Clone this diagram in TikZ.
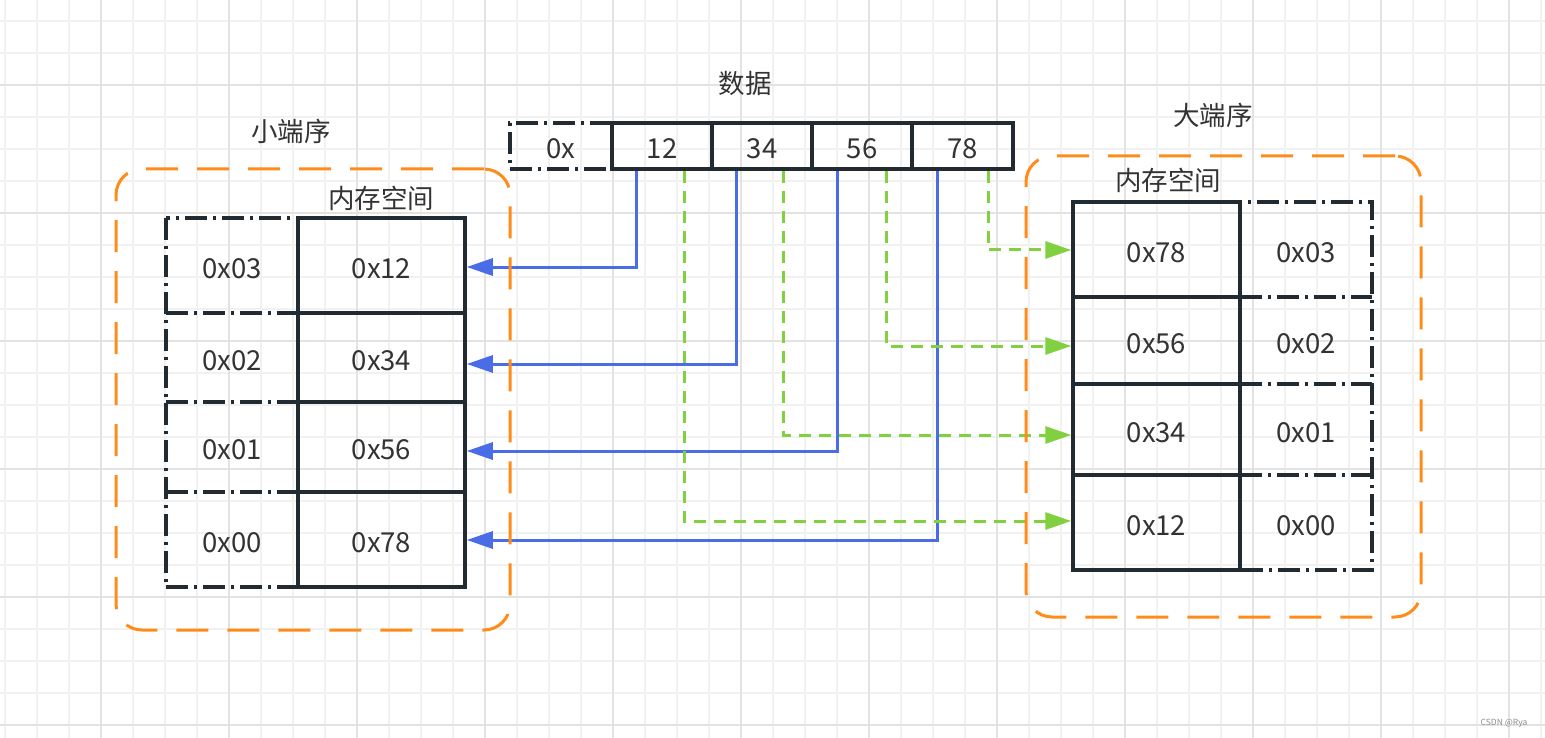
\documentclass[tikz,border=0pt]{standalone}
\usepackage{fontspec}
\setmainfont{Noto Sans CJK SC}
\usetikzlibrary{arrows.meta,calc}
\definecolor{gridminor}{HTML}{F1F1F1}
\definecolor{gridmajor}{HTML}{E3E3E3}
\definecolor{boxline}{HTML}{222A32}
\definecolor{txt}{HTML}{333333}
\definecolor{bluel}{HTML}{4A6CE6}
\definecolor{greenl}{HTML}{80D040}
\definecolor{orangel}{HTML}{FF8C1A}
\tikzset{
  cellfont/.style={font=\fontsize{27.5pt}{31pt}\selectfont, text height=25pt, text depth=0pt},
  cellsolid/.style={draw=boxline, line width=3.5pt, inner sep=0pt, text=txt, cellfont},
  cellplain/.style={inner sep=0pt, text=txt, cellfont},
  ddline/.style={draw=boxline, line width=3.5pt,
    dash pattern=on 22pt off 6pt on 3pt off 6pt},
  celldd/.style={ddline, inner sep=0pt, text=txt, cellfont},
  lbl/.style={text=txt, inner sep=0pt, font=\fontsize{26.5pt}{30pt}\selectfont},
  blueconn/.style={draw=bluel, line width=3pt,
    -{Triangle[length=26pt,width=17pt]}},
  greenconn/.style={draw=greenl, line width=3pt, dash pattern=on 12pt off 8pt,
    -{Triangle[length=26pt,width=17pt]}},
  region/.style={draw=orangel, line width=3pt, rounded corners=26pt,
    dash pattern=on 32pt off 19pt, inner sep=0pt},
}
\begin{document}
\begin{tikzpicture}[x=1pt,y=-1pt]
\useasboundingbox (0,0) rectangle (1545,738);
\fill[white] (0,0) rectangle (1545,738);
% grid
\foreach \k in {0,...,48} {
  \draw[gridminor, line width=1.5pt] ({5+32*\k},0) -- ({5+32*\k},738);
}
\foreach \k in {0,...,22} {
  \draw[gridminor, line width=1.5pt] (0,{21+32*\k}) -- (1545,{21+32*\k});
}
\foreach \k in {0,...,11} {
  \draw[gridmajor, line width=1.5pt] ({101+128*\k},0) -- ({101+128*\k},738);
}
\foreach \k in {0,...,5} {
  \draw[gridmajor, line width=1.5pt] (0,{85+128*\k}) -- (1545,{85+128*\k});
}

% titles
\node[lbl] (tdata) at (745,83) {数据};
\node[lbl] (tle) at (291,131) {小端序};
\node[lbl] (tbe) at (1213,115) {大端序};
\node[lbl] (tmemL) at (381,198) {内存空间};
\node[lbl] (tmemR) at (1168,180) {内存空间};

% data row
\node[celldd, minimum width=102pt, minimum height=46pt] (d0x) at (561,146) {0x};
\node[cellsolid, minimum width=100pt, minimum height=46pt] (d12) at (662,146) {12};
\node[cellsolid, minimum width=100pt, minimum height=46pt] (d34) at (762,146) {34};
\node[cellsolid, minimum width=100pt, minimum height=46pt] (d56) at (862,146) {56};
\node[cellsolid, minimum width=101pt, minimum height=46pt] (d78) at (962.5,146) {78};

% little endian table: address column (dash-dot outline)
\node[cellplain, minimum width=132pt, minimum height=95pt] (la3) at (232,265.5) {0x03};
\node[cellplain, minimum width=132pt, minimum height=89pt] (la2) at (232,357.5) {0x02};
\node[cellplain, minimum width=132pt, minimum height=90pt] (la1) at (232,447) {0x01};
\node[cellplain, minimum width=132pt, minimum height=95pt] (la0) at (232,539.5) {0x00};
\draw[ddline] (la3.north west) rectangle (la0.south east);
\draw[ddline] (la2.north west) -- (la2.north east);
\draw[ddline] (la1.north west) -- (la1.north east);
\draw[ddline] (la0.north west) -- (la0.north east);
\node[cellsolid, minimum width=167pt, minimum height=95pt] (lv1) at (381.5,265.5) {0x12};
\node[cellsolid, minimum width=167pt, minimum height=89pt] (lv2) at (381.5,357.5) {0x34};
\node[cellsolid, minimum width=167pt, minimum height=90pt] (lv3) at (381.5,447) {0x56};
\node[cellsolid, minimum width=167pt, minimum height=95pt] (lv4) at (381.5,539.5) {0x78};

% big endian table
\node[cellplain, minimum width=132pt, minimum height=95pt] (ra3) at (1306,249.5) {0x03};
\node[cellplain, minimum width=132pt, minimum height=87pt] (ra2) at (1306,340.5) {0x02};
\node[cellplain, minimum width=132pt, minimum height=91pt] (ra1) at (1306,429.5) {0x01};
\node[cellplain, minimum width=132pt, minimum height=95pt] (ra0) at (1306,522.5) {0x00};
\draw[ddline] (ra3.north west) rectangle (ra0.south east);
\draw[ddline] (ra2.north west) -- (ra2.north east);
\draw[ddline] (ra1.north west) -- (ra1.north east);
\draw[ddline] (ra0.north west) -- (ra0.north east);
\node[cellsolid, minimum width=167pt, minimum height=95pt] (rv1) at (1156.5,249.5) {0x78};
\node[cellsolid, minimum width=167pt, minimum height=87pt] (rv2) at (1156.5,340.5) {0x56};
\node[cellsolid, minimum width=167pt, minimum height=91pt] (rv3) at (1156.5,429.5) {0x34};
\node[cellsolid, minimum width=167pt, minimum height=95pt] (rv4) at (1156.5,522.5) {0x12};

% little endian connectors (blue)
\draw[blueconn] ([xshift=-26pt]d12.south) |- ([yshift=-1.5pt]lv1.east);
\draw[blueconn] ([xshift=-26pt]d34.south) |- ([yshift=-6.5pt]lv2.east);
\draw[blueconn] ([xshift=-25pt]d56.south) |- ([yshift=-4pt]lv3.east);
\draw[blueconn] ([xshift=-25.5pt]d78.south) |- ([yshift=-0.5pt]lv4.east);

% big endian connectors (green)
\draw[greenconn] ([xshift=22pt]d12.south) |- ([yshift=1.5pt]rv4.west);
\draw[greenconn] ([xshift=21pt]d34.south) |- ([yshift=-5.5pt]rv3.west);
\draw[greenconn] ([xshift=24pt]d56.south) |- ([yshift=-5.5pt]rv2.west);
\draw[greenconn] ([xshift=25.5pt]d78.south) |- ([yshift=-0.5pt]rv1.west);

% regions
\node[region, minimum width=394pt, minimum height=461pt] (regL) at (313,399.5) {};
\node[region, minimum width=395pt, minimum height=461pt] (regR) at (1223.5,386.5) {};

% watermark
\node[text=black!45, inner sep=0pt, font=\fontsize{8.5pt}{9pt}\selectfont] (wm) at (1504,723) {CSDN @Rya};
\end{tikzpicture}
\end{document}
